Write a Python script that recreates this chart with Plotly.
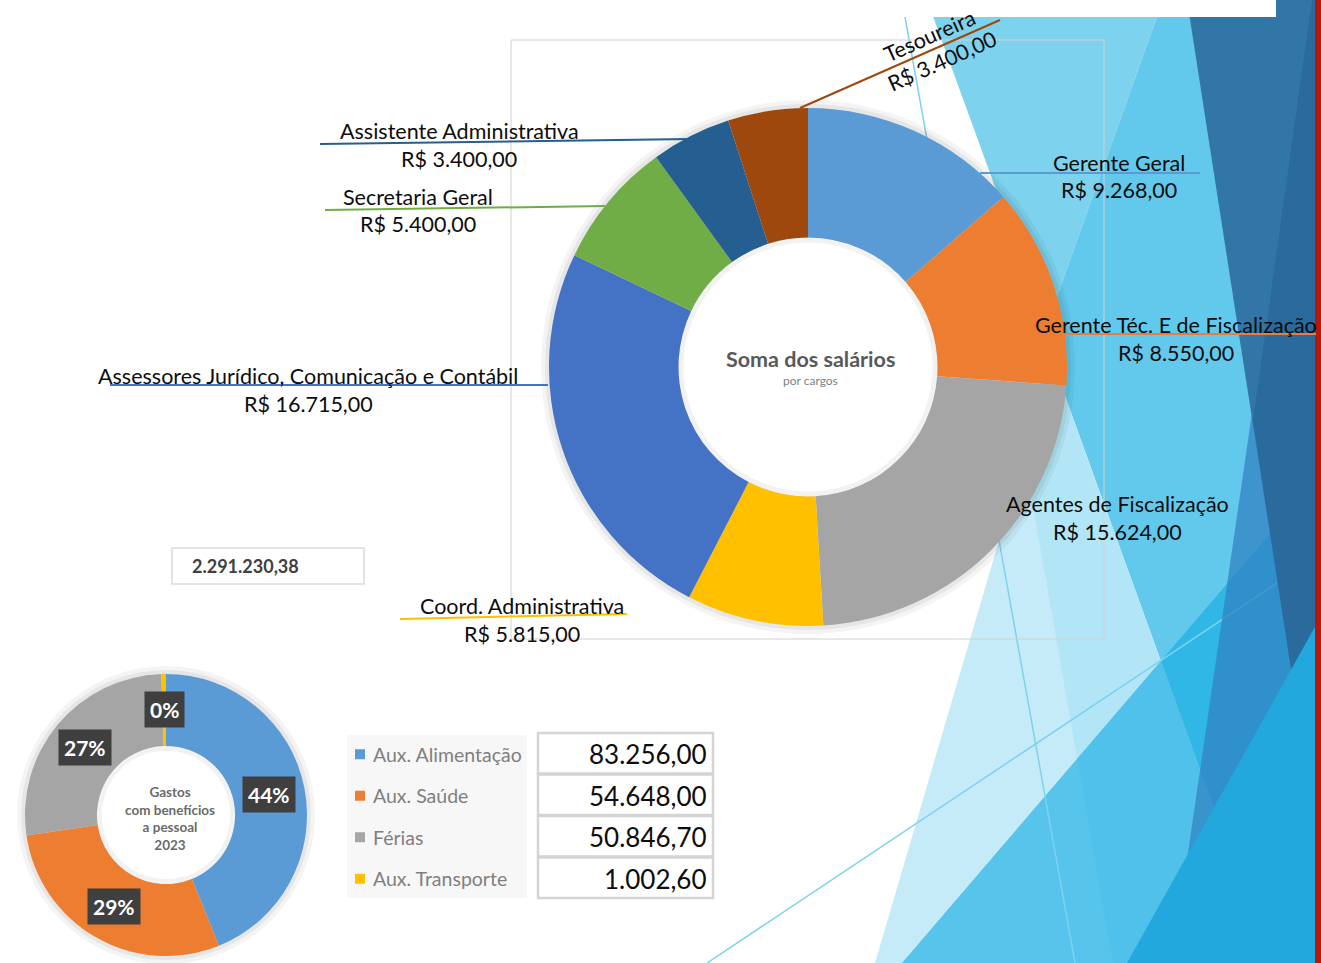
import math
import plotly.graph_objects as go

W, H = 1321, 963
FONT = "Lato"

# Soma dos salários por cargo
cargos = [
    "Gerente Geral",
    "Gerente Téc. E de Fiscalização",
    "Agentes de Fiscalização",
    "Coord. Administrativa",
    "Assessores Jurídico, Comunicação e Contábil",
    "Secretaria Geral",
    "Assistente Administrativa",
    "Tesoureira",
]
salarios = [9268.00, 8550.00, 15624.00, 5815.00, 16715.00, 5400.00, 3400.00, 3400.00]
cores_cargos = ["#5B9BD5", "#ED7D31", "#A5A5A5", "#FFC000", "#4472C4", "#70AD47", "#255E91", "#9E480E"]

# Gastos com benefícios a pessoal 2023
beneficios = ["Aux. Alimentação", "Aux. Saúde", "Férias", "Aux. Transporte"]
gastos = [83256.00, 54648.00, 50846.70, 1002.60]
rotulos_pct = ["44%", "29%", "27%", "0%"]
cores_beneficios = ["#5B9BD5", "#ED7D31", "#A5A5A5", "#FFC000"]

total_geral = 2291230.38


def brl(v):
    s = f"{v:,.2f}"
    return s.replace(",", "X").replace(".", ",").replace("X", ".")


def px(x):
    return x / W


def py(y):
    return 1 - y / H


def dominio(c, r):
    return dict(x=[px(c[0] - r), px(c[0] + r)], y=[py(c[1] + r), py(c[1] - r)])


# donut geometry (pixels)
MAIN_C, MAIN_R, MAIN_HOLE = (808, 367), 259, 0.5
SMALL_C, SMALL_R, SMALL_HOLE = (166, 815), 141, 0.49

shapes = []


def poly(pts, color, layer="below"):
    path = "M " + " L ".join(f"{px(x):.5f},{py(y):.5f}" for x, y in pts) + " Z"
    shapes.append(dict(type="path", xref="paper", yref="paper", layer=layer,
                       path=path, fillcolor=color, line=dict(width=0)))


def seg(x0, y0, x1, y1, color, width, layer="below"):
    shapes.append(dict(type="line", xref="paper", yref="paper", layer=layer,
                       x0=px(x0), y0=py(y0), x1=px(x1), y1=py(y1),
                       line=dict(color=color, width=width)))


def rect(x0, y0, x1, y1, fill=None, line_color=None, line_width=0, layer="below"):
    shapes.append(dict(type="rect", xref="paper", yref="paper", layer=layer,
                       x0=px(x0), y0=py(y1), x1=px(x1), y1=py(y0),
                       fillcolor=fill if fill else "rgba(0,0,0,0)",
                       line=dict(color=line_color if line_color else "rgba(0,0,0,0)",
                                 width=line_width)))


def circle(c, r, fill=None, line_color=None, line_width=0, layer="below"):
    shapes.append(dict(type="circle", xref="paper", yref="paper", layer=layer,
                       x0=px(c[0] - r), x1=px(c[0] + r), y0=py(c[1] + r), y1=py(c[1] - r),
                       fillcolor=fill if fill else "rgba(0,0,0,0)",
                       line=dict(color=line_color if line_color else "rgba(0,0,0,0)",
                                 width=line_width)))


# ---- faceted background on the right ----
poly([(927, 0), (1163, 0), (1046, 327)], "#7DD3EE")
poly([(1163, 0), (1316, 0), (1316, 963), (1270, 963), (1052, 360), (1046, 327)], "#63C9EC")
poly([(1052, 360), (875, 963), (1270, 963)], "#C5EBF8")
poly([(1024, 455), (1052, 360), (1270, 963), (1113, 963)], "#B2E5F6")
poly([(902, 963), (1316, 480), (1316, 963)], "rgba(20,173,226,0.63)")
seg(905, 17, 1075, 963, "#7DD3EE", 1.5)
seg(707, 963, 1316, 557, "#7DD3EE", 1.5)
poly([(1312, 0), (1316, 0), (1316, 963), (1172, 963)], "rgba(48,129,193,0.72)")
poly([(1187, 0), (1316, 0), (1316, 830)], "#3176A7")
poly([(1312, 0), (1316, 0), (1316, 830), (1253, 421)], "#2A6A9C")
poly([(1127, 963), (1316, 625), (1316, 963)], "#22A8DC")
rect(0, 0, 1276, 17, fill="#FFFFFF")
rect(1315, 0, 1321, 963, fill="#B8170C")

# chart frame
rect(511, 40, 1104, 639, line_color="#D0D0D0", line_width=1)

# soft halo around the donuts, white hole, faint inner shadow
for c, r, hole in ((MAIN_C, MAIN_R, MAIN_HOLE), (SMALL_C, SMALL_R, SMALL_HOLE)):
    circle(c, r + 8, fill="rgba(0,0,0,0.045)")
    circle(c, r + 4, fill="rgba(0,0,0,0.055)")
    hr = r * hole
    circle(c, hr, fill="#FFFFFF")
    circle(c, hr - 2.5, line_color="rgba(0,0,0,0.05)", line_width=5, layer="above")

fig = go.Figure()

fig.add_trace(go.Pie(
    values=salarios, labels=cargos,
    marker=dict(colors=cores_cargos, line=dict(width=0)),
    hole=MAIN_HOLE, sort=False, direction="clockwise", rotation=0,
    textinfo="none", domain=dominio(MAIN_C, MAIN_R), showlegend=False,
    hovertemplate="%{label}<br>R$ %{value:,.2f}<extra></extra>",
))

fig.add_trace(go.Pie(
    values=gastos, labels=beneficios,
    marker=dict(colors=cores_beneficios, line=dict(width=0)),
    hole=SMALL_HOLE, sort=False, direction="clockwise", rotation=0,
    textinfo="none", domain=dominio(SMALL_C, SMALL_R), showlegend=False,
    hovertemplate="%{label}<br>%{value:,.2f}<extra></extra>",
))

annotations = []


def texto(x, y, t, size, color="#0D0D0D", bold=False, xanchor="center", angle=0, **kw):
    if bold:
        t = f"<b>{t}</b>"
    annotations.append(dict(xref="paper", yref="paper", x=px(x), y=py(y), text=t,
                            showarrow=False, xanchor=xanchor, yanchor="middle",
                            textangle=angle,
                            font=dict(family=FONT, size=size, color=color), **kw))


# label placement for the salary donut: (text x, name y, leader line)
rotulo_layout = [
    (1119, 163, (980, 173, 1200, 173)),
    (1176, 325, (1063, 334, 1316, 334)),
    (1117, 504, None),
    (522, 606, (400, 619, 627, 614)),
    (308, 376, (110, 385, 548, 385)),
    (418, 197, (325, 210, 605, 206)),
    (459, 131, (320, 144, 690, 139)),
]
for (x, y, ln), nome, val, cor in zip(rotulo_layout, cargos, salarios, cores_cargos):
    if ln:
        seg(*ln, cor, 2, layer="above")
    texto(x, y, nome, 21.5)
    texto(x, y + 27.5, "R$ " + brl(val), 21.5)

# Tesoureira label sits on a slanted leader
seg(800, 108, 1000, 20, cores_cargos[7], 2, layer="above")
texto(929, 36, cargos[7], 21.5, angle=-24)
texto(942, 61, "R$ " + brl(salarios[7]), 21.5, angle=-24)

# donut centre captions
texto(MAIN_C[0] + 2, 359, "Soma dos salários", 21.5, color="#595959", bold=True)
texto(MAIN_C[0] + 2, 381, "por cargos", 12, color="#7F7F7F")
texto(170, 818, "Gastos<br>com benefícios<br>a pessoal<br>2023", 13.5, color="#6B6B6B", bold=True)

# overall total
rect(172, 548, 364, 584, fill="#FFFFFF", line_color="#DCDCDC", line_width=1.5)
texto(190, 566, brl(total_geral), 18, color="#404040", bold=True, xanchor="left")

# percentage tags on the benefits donut
tot = sum(gastos)
acc = 0.0
r_mid = SMALL_R * (1 + SMALL_HOLE) / 2
for v, t in zip(gastos, rotulos_pct):
    ang = (acc + v / 2) / tot * 2 * math.pi
    acc += v
    x = SMALL_C[0] + r_mid * math.sin(ang)
    y = SMALL_C[1] - r_mid * math.cos(ang)
    texto(x, y, t, 21, color="#FFFFFF", bold=True, bgcolor="#3F3F3F", borderpad=5)

# legend + value table for the benefits
rect(347, 735, 527, 898, fill="#F7F7F7")
row_top, row_h = 732, 41.5
for i, (nome, v, cor) in enumerate(zip(beneficios, gastos, cores_beneficios)):
    y0 = row_top + i * row_h
    yc = y0 + row_h / 2 + 1.5
    rect(355, yc - 5, 365, yc + 5, fill=cor)
    texto(371, yc, nome, 19.5, color="#7F7F7F", xanchor="left")
    rect(538, y0 + 1, 713, y0 + row_h, fill="#FFFFFF", line_color="#D4D4D4", line_width=2.5)
    texto(709, yc, brl(v), 26, color="#0D0D0D", xanchor="right")

fig.update_layout(
    width=W, height=H,
    margin=dict(l=0, r=0, t=0, b=0),
    paper_bgcolor="#FFFFFF", plot_bgcolor="#FFFFFF",
    shapes=shapes, annotations=annotations,
    font=dict(family=FONT),
    showlegend=False,
)

fig.write_html("out.html")
